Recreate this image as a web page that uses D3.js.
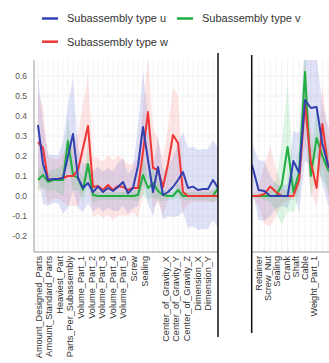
<!DOCTYPE html>
<html>
<head>
<meta charset="utf-8">
<script src="https://cdn.jsdelivr.net/npm/d3@7"></script>
<style>
  body { margin: 0; background: #fff; }
  text { font-family: "Liberation Sans", Arial, sans-serif; }
</style>
</head>
<body>
<svg id="chart" width="329" height="363"></svg>
<script>
// tick labels (left panel shows one label every second point)
const leftLabels = ["Amount_Designed_Parts", "Amount_Standard_Parts", "Heaviest_Part",
  "Parts_Per_Subassembly", "Volume_Part_1", "Volume_Part_2", "Volume_Part_3",
  "Volume_Part_4", "Volume_Part_5", "Screw", "Sealing", "",
  "Center_of_Gravity_X", "Center_of_Gravity_Y", "Center_of_Gravity_Z",
  "Dimension_X", "Dimension_Y"];
const rightLabels = ["Retainer", "Screw_Nut", "Sealing", "Crank", "Shaft", "Cable", "Weight_Part_1"];
const yTicks = [0.6, 0.5, 0.4, 0.3, 0.2, 0.1, 0.0, -0.1, -0.2];

const seriesNames = ["Subassembly type u", "Subassembly type v", "Subassembly type w"];

// left panel values
const leftU = [0.355, 0.16, 0.08, 0.085, 0.085, 0.09, 0.2, 0.31, 0.09, 0.04,
  0.065, 0.02, 0.047, 0.02, 0.04, 0.025, 0.045, 0.07, 0.013, 0.04,
  0.15, 0.345, 0.18, 0.02, 0.145, 0.005, 0.02, 0.045, 0.08, 0.12,
  0.04, 0.047, 0.03, 0.035, 0.035, 0.08, 0.04];
const leftV = [0.08, 0.105, 0.07, 0.08, 0.08, 0.08, 0.275, 0.105, 0.09, 0.03,
  0.16, 0.005, 0, 0, 0, 0, 0, 0, 0, 0,
  0.005, 0.105, 0.04, 0.065, 0.025, 0.005, 0, 0, 0.03, 0,
  0, 0, 0, 0, 0, 0, 0.04];
const leftW = [0.27, 0.24, 0.08, 0.085, 0.085, 0.09, 0.1, 0.1, 0.13, 0.24,
  0.35, 0.045, 0.05, 0.03, 0.055, 0.03, 0.05, 0.045, 0.03, 0.04,
  0.04, 0.22, 0.42, 0.14, 0.13, 0.045, 0.16, 0.305, 0.265, 0.02,
  0, 0, 0, 0, 0, 0, 0];
// half width of the shaded bands
const leftSpreadU = [0.25, 0.2, 0.13, 0.12, 0.12, 0.18, 0.26, 0.28, 0.15, 0.12,
  0.1, 0.1, 0.1, 0.1, 0.1, 0.1, 0.12, 0.12, 0.1, 0.1,
  0.2, 0.28, 0.22, 0.12, 0.15, 0.12, 0.12, 0.15, 0.18, 0.2,
  0.2, 0.2, 0.2, 0.2, 0.2, 0.2, 0.2];
const leftSpreadV = [0.05, 0.06, 0.05, 0.05, 0.06, 0.08, 0.12, 0.08, 0.06, 0.06,
  0.1, 0.04, 0.02, 0.02, 0.02, 0.02, 0.02, 0.02, 0.02, 0.02,
  0.03, 0.1, 0.06, 0.07, 0.05, 0.03, 0.02, 0.02, 0.04, 0.02,
  0.02, 0.02, 0.02, 0.02, 0.02, 0.03, 0.05];
const leftSpreadW = [0.25, 0.2, 0.12, 0.1, 0.1, 0.12, 0.15, 0.15, 0.18, 0.22,
  0.26, 0.15, 0.14, 0.14, 0.15, 0.15, 0.15, 0.14, 0.13, 0.12,
  0.15, 0.22, 0.28, 0.2, 0.16, 0.14, 0.18, 0.24, 0.24, 0.1,
  0.04, 0.03, 0.03, 0.03, 0.03, 0.03, 0.03];

// right panel values
const rightU = [0.22, 0.14, 0.03, 0.025, 0, 0, 0, 0, 0.175, 0.115, 0.48, 0.44, 0.445, 0.26, 0.15, 0.1];
const rightV = [0, 0, 0, 0, 0, 0, 0.055, 0.245, 0.02, 0.12, 0.62, 0.1, 0.29, 0.2, 0.13, 0.1];
const rightW = [0, 0, 0, 0.01, 0.047, 0.02, 0, 0, 0, 0.08, 0.46, 0.17, 0.04, 0.36, 0.145, 0.2];
const rightSpreadU = [0.12, 0.12, 0.15, 0.15, 0.1, 0.06, 0.05, 0.06, 0.15, 0.2, 0.3, 0.3, 0.25, 0.2, 0.2, 0.2];
const rightSpreadV = [0.01, 0.01, 0.01, 0.02, 0.03, 0.08, 0.2, 0.32, 0.1, 0.12, 0.15, 0.12, 0.15, 0.12, 0.1, 0.1];
const rightSpreadW = [0.01, 0.01, 0.05, 0.15, 0.2, 0.12, 0.04, 0.02, 0.02, 0.05, 0.2, 0.15, 0.1, 0.2, 0.15, 0.15];

const colors = { u: "#3340b0", v: "#1fae3f", w: "#f03535" };
const fills = { u: "rgba(70,90,210,0.17)", v: "rgba(40,190,90,0.15)", w: "rgba(255,90,90,0.15)" };

const svg = d3.select("#chart");
const plotTop = 60, plotBottom = 252;

const y = d3.scaleLinear().domain([-0.2, 0.6]).range([236, 76]);

function panel(opts) {
  const g = svg.append("g");
  const clipId = "clip" + opts.id;
  svg.append("clipPath").attr("id", clipId)
    .append("rect").attr("x", opts.x0).attr("y", plotTop)
    .attr("width", opts.x1 - opts.x0).attr("height", plotBottom - plotTop);

  const x = d3.scaleLinear().domain([0, opts.u.length - 1]).range(opts.dataRange);
  const xl = d3.scalePoint().domain(opts.labels).range(opts.labelRange);

  // faint vertical grid at every point
  const grid = g.append("g").attr("clip-path", `url(#${clipId})`);
  grid.selectAll("line.v").data(d3.range(opts.u.length)).join("line")
    .attr("class", "v")
    .attr("x1", d => x(d)).attr("x2", d => x(d))
    .attr("y1", plotTop).attr("y2", plotBottom)
    .attr("stroke", "#e6e6e6").attr("stroke-dasharray", "1,1");
  grid.selectAll("line.h").data(yTicks).join("line")
    .attr("class", "h")
    .attr("x1", opts.x0).attr("x2", opts.x1)
    .attr("y1", d => y(d)).attr("y2", d => y(d))
    .attr("stroke", "#f1f1f1");

  const plot = g.append("g").attr("clip-path", `url(#${clipId})`);
  const sets = [
    ["w", opts.w, opts.sw], ["u", opts.u, opts.su], ["v", opts.v, opts.sv]
  ];
  sets.forEach(([k, vals, sp]) => {
    const area = d3.area()
      .x((d, i) => x(i))
      .y0((d, i) => y(d - sp[i]))
      .y1((d, i) => y(d + sp[i]));
    plot.append("path").datum(vals).attr("d", area).attr("fill", fills[k]);
  });
  [["v", opts.v], ["w", opts.w], ["u", opts.u]].forEach(([k, vals]) => {
    const line = d3.line().x((d, i) => x(i)).y(d => y(d));
    plot.append("path").datum(vals).attr("d", line)
      .attr("fill", "none").attr("stroke", colors[k])
      .attr("stroke-width", 2).attr("stroke-linejoin", "round");
  });

  // bottom axis with rotated labels
  const ax = g.append("g").attr("transform", `translate(0,${plotBottom})`)
    .call(d3.axisBottom(xl).tickSize(0).tickSizeOuter(0));
  ax.select(".domain").attr("d", `M${opts.x0},0H${opts.x1}`)
    .attr("stroke", "#bbb").attr("stroke-width", 1.5);
  ax.selectAll("text")
    .attr("transform", "rotate(-90)")
    .attr("x", -4).attr("y", 0).attr("dy", "0.35em")
    .attr("text-anchor", "end")
    .attr("fill", "#333").style("font-size", "9.2px");
  return g;
}

panel({
  id: "L", x0: 34, x1: 218,
  dataRange: [38, 218], labelRange: [38, 207.4], labels: leftLabels,
  u: leftU, v: leftV, w: leftW, su: leftSpreadU, sv: leftSpreadV, sw: leftSpreadW
});
panel({
  id: "R", x0: 251.7, x1: 329,
  dataRange: [247, 334], labelRange: [258.3, 313.3], labels: rightLabels,
  u: rightU, v: rightV, w: rightW, su: rightSpreadU, sv: rightSpreadV, sw: rightSpreadW
});

// y axis of left panel
const yAx = svg.append("g").attr("transform", "translate(34,0)")
  .call(d3.axisLeft(y).tickValues(yTicks).tickSize(0).tickPadding(7).tickFormat(d => d.toFixed(1)));
yAx.select(".domain").attr("d", `M0,${plotTop}V${plotBottom}`).attr("stroke", "#bbb").attr("stroke-width", 1.5);
yAx.selectAll("text").attr("fill", "#555").style("font-size", "8.5px");

// black dividers
svg.append("line").attr("x1", 218).attr("x2", 218).attr("y1", 53).attr("y2", 337)
  .attr("stroke", "#111").attr("stroke-width", 1.5);
svg.append("line").attr("x1", 251.7).attr("x2", 251.7).attr("y1", 55).attr("y2", 333)
  .attr("stroke", "#111").attr("stroke-width", 1.5);

// legend
const legendItems = [
  { name: seriesNames[0], k: "u", x: 42, y: 18.5 },
  { name: seriesNames[1], k: "v", x: 177, y: 18.5 },
  { name: seriesNames[2], k: "w", x: 42, y: 41.7 }
];
const lg = svg.append("g");
lg.selectAll("line").data(legendItems).join("line")
  .attr("x1", d => d.x).attr("x2", d => d.x + 16)
  .attr("y1", d => d.y).attr("y2", d => d.y)
  .attr("stroke", d => colors[d.k]).attr("stroke-width", 2.5);
lg.selectAll("text").data(legendItems).join("text")
  .attr("x", d => d.x + 25).attr("y", d => d.y).attr("dy", "0.35em")
  .attr("fill", "#333").style("font-size", "11px")
  .text(d => d.name);
</script>
</body>
</html>
